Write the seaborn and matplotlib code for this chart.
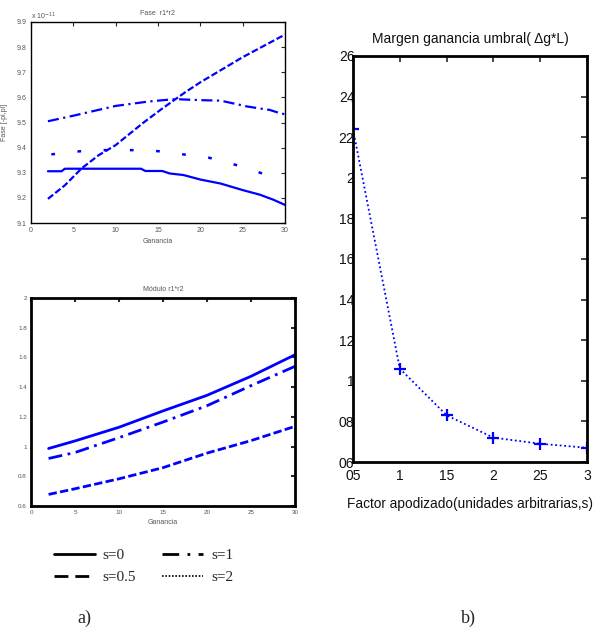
import numpy as np
import pandas as pd
import matplotlib
matplotlib.use("Agg")
import matplotlib.pyplot as plt
from matplotlib.lines import Line2D
import seaborn as sns

sns.set_style("white")
plt.rcParams['font.family'] = ['Liberation Sans', 'DejaVu Sans']

# ---------------- data ----------------
# Top-left: Fase r1*r2 (x 10^-11)
fase_s0_x = [2, 3.6, 4, 13, 13.5, 15.5, 16.4, 18, 20, 22.4, 25, 27, 28.6, 30]
fase_s0_y = [9.306, 9.306, 9.316, 9.316, 9.307, 9.307, 9.297, 9.291, 9.273, 9.257, 9.231, 9.213, 9.193, 9.172]
fase_s05_x = [2, 4, 6, 8, 10, 13.3, 15.4, 18.2, 20, 25, 30]
fase_s05_y = [9.196, 9.25, 9.318, 9.37, 9.41, 9.5, 9.553, 9.62, 9.66, 9.76, 9.85]
fase_s1_x = [2, 5, 10, 14, 17, 20, 22.4, 24.3, 25.5, 27, 28.2, 29.5, 30]
fase_s1_y = [9.505, 9.527, 9.566, 9.584, 9.593, 9.589, 9.587, 9.573, 9.564, 9.556, 9.55, 9.536, 9.533]
fase_s2_x = [2.4, 4.5, 7.5, 13.5, 16, 18, 19.6, 21, 23.7, 25.3, 27.5, 29]
fase_s2_y = [9.373, 9.382, 9.39, 9.39, 9.383, 9.373, 9.367, 9.36, 9.336, 9.32, 9.295, 9.277]

# Bottom-left: Modulo r1*r2
mod_x = [2, 5, 10, 15, 20, 25, 30]
mod_s0 = [0.987, 1.038, 1.13, 1.24, 1.345, 1.473, 1.618]
mod_s05 = [0.678, 0.716, 0.783, 0.858, 0.956, 1.04, 1.136]
mod_s1 = [0.92, 0.96, 1.06, 1.165, 1.275, 1.41, 1.54]

# Right: Margen ganancia umbral
factor_s = [0.5, 1.0, 1.5, 2.0, 2.5, 3.0]
margen = [2.24, 1.06, 0.83, 0.72, 0.69, 0.67]
right_yticks = [0.6, 0.8, 1.0, 1.2, 1.4, 1.6, 1.8, 2.0, 2.2, 2.4, 2.6]
right_yticklabels = ["06", "08", "1", "12", "14", "16", "18", "2", "22", "24", "26"]
right_xticks = [0.5, 1.0, 1.5, 2.0, 2.5, 3.0]
right_xticklabels = ["05", "1", "15", "2", "25", "3"]

legend_labels = ["s=0", "s=0.5", "s=1", "s=2"]

BLUE = "#0000ff"
GREY = "#555555"
STYLES = {"s=0": "-", "s=0.5": (0, (3, 1.2)), "s=1": (0, (5, 2, 1, 2)), "s=2": (0, (1.5, 9))}

W, H = 610, 629
fig = plt.figure(figsize=(W / 100, H / 100), dpi=100)

def frac(l, t, r, b):
    return [l / W, 1 - b / H, (r - l) / W, (b - t) / H]

# ---------- Top-left ----------
ax1 = fig.add_axes(frac(31, 22, 285, 223))
fase_sets = [(fase_s0_x, fase_s0_y, "s=0"), (fase_s05_x, fase_s05_y, "s=0.5"),
             (fase_s1_x, fase_s1_y, "s=1"), (fase_s2_x, fase_s2_y, "s=2")]
for xs, ys, lab in fase_sets:
    df = pd.DataFrame({"x": xs, "y": ys})
    sns.lineplot(data=df, x="x", y="y", ax=ax1, color=BLUE,
                 linewidth=1.6 if lab != "s=2" else 1.8, linestyle=STYLES[lab], legend=False)
ax1.set_xlim(0, 30)
ax1.set_ylim(9.1, 9.9)
ax1.set_xticks([0, 5, 10, 15, 20, 25, 30])
ax1.set_yticks(np.round(np.arange(9.1, 9.91, 0.1), 1))
ax1.set_yticklabels([f"{v:.1f}" for v in np.arange(9.1, 9.91, 0.1)])
ax1.tick_params(direction="in", length=3, width=0.8, top=True, right=True,
                labelsize=5, labelcolor=GREY, pad=3)
for s in ax1.spines.values():
    s.set_linewidth(1.0)
    s.set_color("black")
ax1.set_title("Fase  r1*r2", fontsize=5, color=GREY, pad=5)
ax1.set_xlabel("Ganancia", fontsize=5, color=GREY, labelpad=3)
ax1.set_ylabel("Fase [-pi,pi]", fontsize=5, color=GREY, labelpad=6)
fig.text(31 / W, 1 - 16 / H, r"x 10$^{-11}$", fontsize=5, color=GREY, ha="left", va="center")

# ---------- Bottom-left ----------
ax2 = fig.add_axes(frac(31, 298, 295, 506))
mod_sets = [(mod_s0, "s=0"), (mod_s05, "s=0.5"), (mod_s1, "s=1")]
for ys, lab in mod_sets:
    df = pd.DataFrame({"x": mod_x, "y": ys})
    sns.lineplot(data=df, x="x", y="y", ax=ax2, color=BLUE, linewidth=2.0,
                 linestyle=STYLES[lab], legend=False)
ax2.set_xlim(0, 30)
ax2.set_ylim(0.6, 2.0)
ax2.set_xticks([0, 5, 10, 15, 20, 25, 30])
ax2.set_yticks([0.6, 0.8, 1.0, 1.2, 1.4, 1.6, 1.8, 2.0])
ax2.set_yticklabels(["0.6", "0.8", "1", "1.2", "1.4", "1.6", "1.8", "2"])
ax2.tick_params(direction="in", length=3, width=1.5, top=True, right=True,
                labelsize=4.5, labelcolor=GREY, pad=3)
for s in ax2.spines.values():
    s.set_linewidth(2.0)
    s.set_color("black")
ax2.set_title("Módulo r1*r2", fontsize=5, color=GREY, pad=5)
ax2.set_xlabel("Ganancia", fontsize=5, color=GREY, labelpad=3)
ax2.set_ylabel("")

# ---------- Right ----------
ax3 = fig.add_axes(frac(353, 56, 587, 462))
dfr = pd.DataFrame({"s": factor_s, "m": margen})
sns.lineplot(data=dfr, x="s", y="m", ax=ax3, color=BLUE, linewidth=1.3,
             linestyle=(0, (1, 1.5)), marker="+", markersize=9, markeredgewidth=1.6,
             markeredgecolor=BLUE, legend=False)
ax3.set_xlim(0.5, 3.0)
ax3.set_ylim(0.6, 2.6)
ax3.set_xticks(right_xticks)
ax3.set_xticklabels(right_xticklabels)
ax3.set_yticks(right_yticks)
ax3.set_yticklabels(right_yticklabels)
ax3.tick_params(direction="in", length=4, width=1.2, top=True, right=True,
                labelsize=10, labelcolor="#111111")
ax3.tick_params(axis="y", pad=-1)
ax3.tick_params(axis="x", pad=5)
for s in ax3.spines.values():
    s.set_linewidth(2.0)
    s.set_color("black")
ax3.set_title("Margen ganancia umbral( \u0394g*L)", fontsize=10, color="#111111", pad=9)
ax3.set_xlabel("Factor apodizado(unidades arbitrarias,s)", fontsize=9.8, color="#111111", labelpad=10)
ax3.set_ylabel("")

# ---------- Legend ----------
handles = [
    Line2D([], [], color="black", linewidth=2.0, linestyle="-"),
    Line2D([], [], color="black", linewidth=2.0, linestyle=(0, (5, 2.5))),
    Line2D([], [], color="black", linewidth=2.0, linestyle=(0, (6, 3, 1, 3))),
    Line2D([], [], color="black", linewidth=1.2, linestyle=(0, (1, 1))),
]
fig.legend(handles, legend_labels, loc="upper left", bbox_to_anchor=(46 / W, 1 - 541 / H),
           ncol=2, frameon=False, borderpad=0, handlelength=2.7, handletextpad=0.5,
           columnspacing=1.7, labelspacing=0.55,
           prop={"family": "Liberation Serif", "size": 11})

fig.text(84 / W, 1 - 618 / H, "a)", fontsize=13, family="Liberation Serif", ha="center", va="center")
fig.text(468 / W, 1 - 618 / H, "b)", fontsize=13, family="Liberation Serif", ha="center", va="center")

fig.savefig("out.png", dpi=100)
